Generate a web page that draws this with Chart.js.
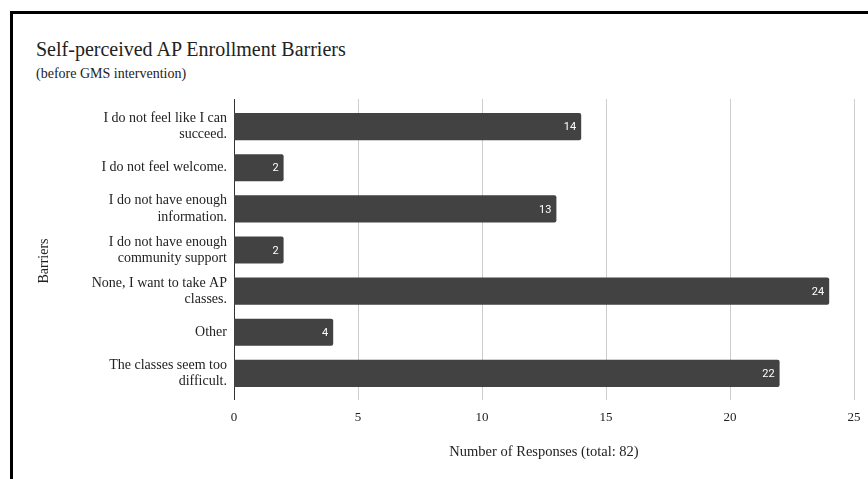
<!DOCTYPE html>
<html>
<head>
<meta charset="utf-8">
<script src="https://cdn.jsdelivr.net/npm/chart.js@4.4.1/dist/chart.umd.min.js"></script>
<style>
  html, body { margin: 0; padding: 0; background: #fff; overflow: hidden; }
  .frame {
    position: absolute; left: 10px; top: 11px; width: 900px; height: 500px;
    border-left: 3px solid #000; border-top: 3px solid #000;
  }
  .title {
    position: absolute; left: 36px; top: 38px;
    font: 20px "Liberation Serif", serif; color: #222;
  }
  .subtitle {
    position: absolute; left: 36px; top: 66px;
    font: 14px "Liberation Serif", serif; color: #222;
  }
  #wrap { position: absolute; left: 0; top: 0; width: 868px; height: 479px; }
</style>
</head>
<body>
<div class="frame"></div>
<div class="title">Self-perceived AP Enrollment Barriers</div>
<div class="subtitle">(before GMS intervention)</div>
<div id="wrap"><canvas id="barChart"></canvas></div>
<script>
// === Dữ liệu
const categories = [
  ["I do not feel like I can", "succeed."],
  "I do not feel welcome.",
  ["I do not have enough", "information."],
  ["I do not have enough", "community support"],
  ["None, I want to take AP", "classes."],
  "Other",
  ["The classes seem too", "difficult."],
];
const responses = [14, 2, 13, 2, 24, 4, 22];
const xTicks = [0, 5, 10, 15, 20, 25];

const serif = "'Liberation Serif', serif";

// === Lưới dọc + trục (kéo dài ra ngoài vùng vẽ một chút)
const gridPlugin = {
  id: "gridLines",
  beforeDatasetsDraw(chart) {
    const { ctx, chartArea: a } = chart;
    const x = chart.scales.x;
    ctx.save();
    ctx.lineWidth = 1;
    xTicks.forEach((v) => {
      const px = Math.round(x.getPixelForValue(v)) + 0.5;
      ctx.strokeStyle = v === 0 ? "#333333" : "#cccccc";
      ctx.beginPath();
      ctx.moveTo(px, a.top - 7);
      ctx.lineTo(px, a.bottom + 6);
      ctx.stroke();
    });
    ctx.restore();
  },
};

// === Nhãn giá trị trong cột + tiêu đề trục Y
const labelPlugin = {
  id: "barLabels",
  afterDatasetsDraw(chart) {
    const { ctx } = chart;
    ctx.save();
    ctx.font = "11px Roboto";
    ctx.fillStyle = "#ffffff";
    ctx.textAlign = "right";
    ctx.textBaseline = "middle";
    chart.getDatasetMeta(0).data.forEach((bar, i) => {
      ctx.fillText(String(responses[i]), bar.x - 5, bar.y + 1);
    });
    ctx.font = "14px " + serif;
    ctx.fillStyle = "#222222";
    ctx.textAlign = "center";
    ctx.translate(44, 261);
    ctx.rotate(-Math.PI / 2);
    ctx.fillText("Barriers", 0, 0);
    ctx.restore();
  },
};

new Chart(document.getElementById("barChart"), {
  type: "bar",
  data: {
    labels: categories,
    datasets: [
      {
        data: responses,
        backgroundColor: "#424242",
        borderRadius: 2,
        borderSkipped: "start",
        categoryPercentage: 1,
        barPercentage: 0.66,
      },
    ],
  },
  options: {
    indexAxis: "y",
    responsive: true,
    maintainAspectRatio: false,
    animation: false,
    layout: { padding: { top: 106, right: 14, bottom: 0, left: 0 } },
    plugins: {
      legend: { display: false },
      tooltip: { enabled: false },
    },
    scales: {
      x: {
        min: 0,
        max: 25,
        afterBuildTicks(scale) {
          scale.ticks = xTicks.map((v) => ({ value: v }));
        },
        afterFit(scale) {
          scale.height = 85;
          scale.paddingLeft = 0;
          scale.paddingRight = 0;
        },
        grid: { display: false, drawTicks: false },
        border: { display: false },
        ticks: { color: "#222", padding: 16, font: { family: serif, size: 13 } },
        title: {
          display: true,
          text: "Number of Responses (total: 82)",
          color: "#222",
          font: { family: serif, size: 14.5 },
          padding: { top: 0, bottom: 18 },
        },
      },
      y: {
        afterFit(scale) {
          scale.width = 234;
        },
        grid: { display: false, drawTicks: false },
        border: { display: false },
        ticks: {
          color: "#222",
          padding: 7,
          font: { family: serif, size: 14, lineHeight: 1.15 },
        },
      },
    },
  },
  plugins: [gridPlugin, labelPlugin],
});
</script>
</body>
</html>
